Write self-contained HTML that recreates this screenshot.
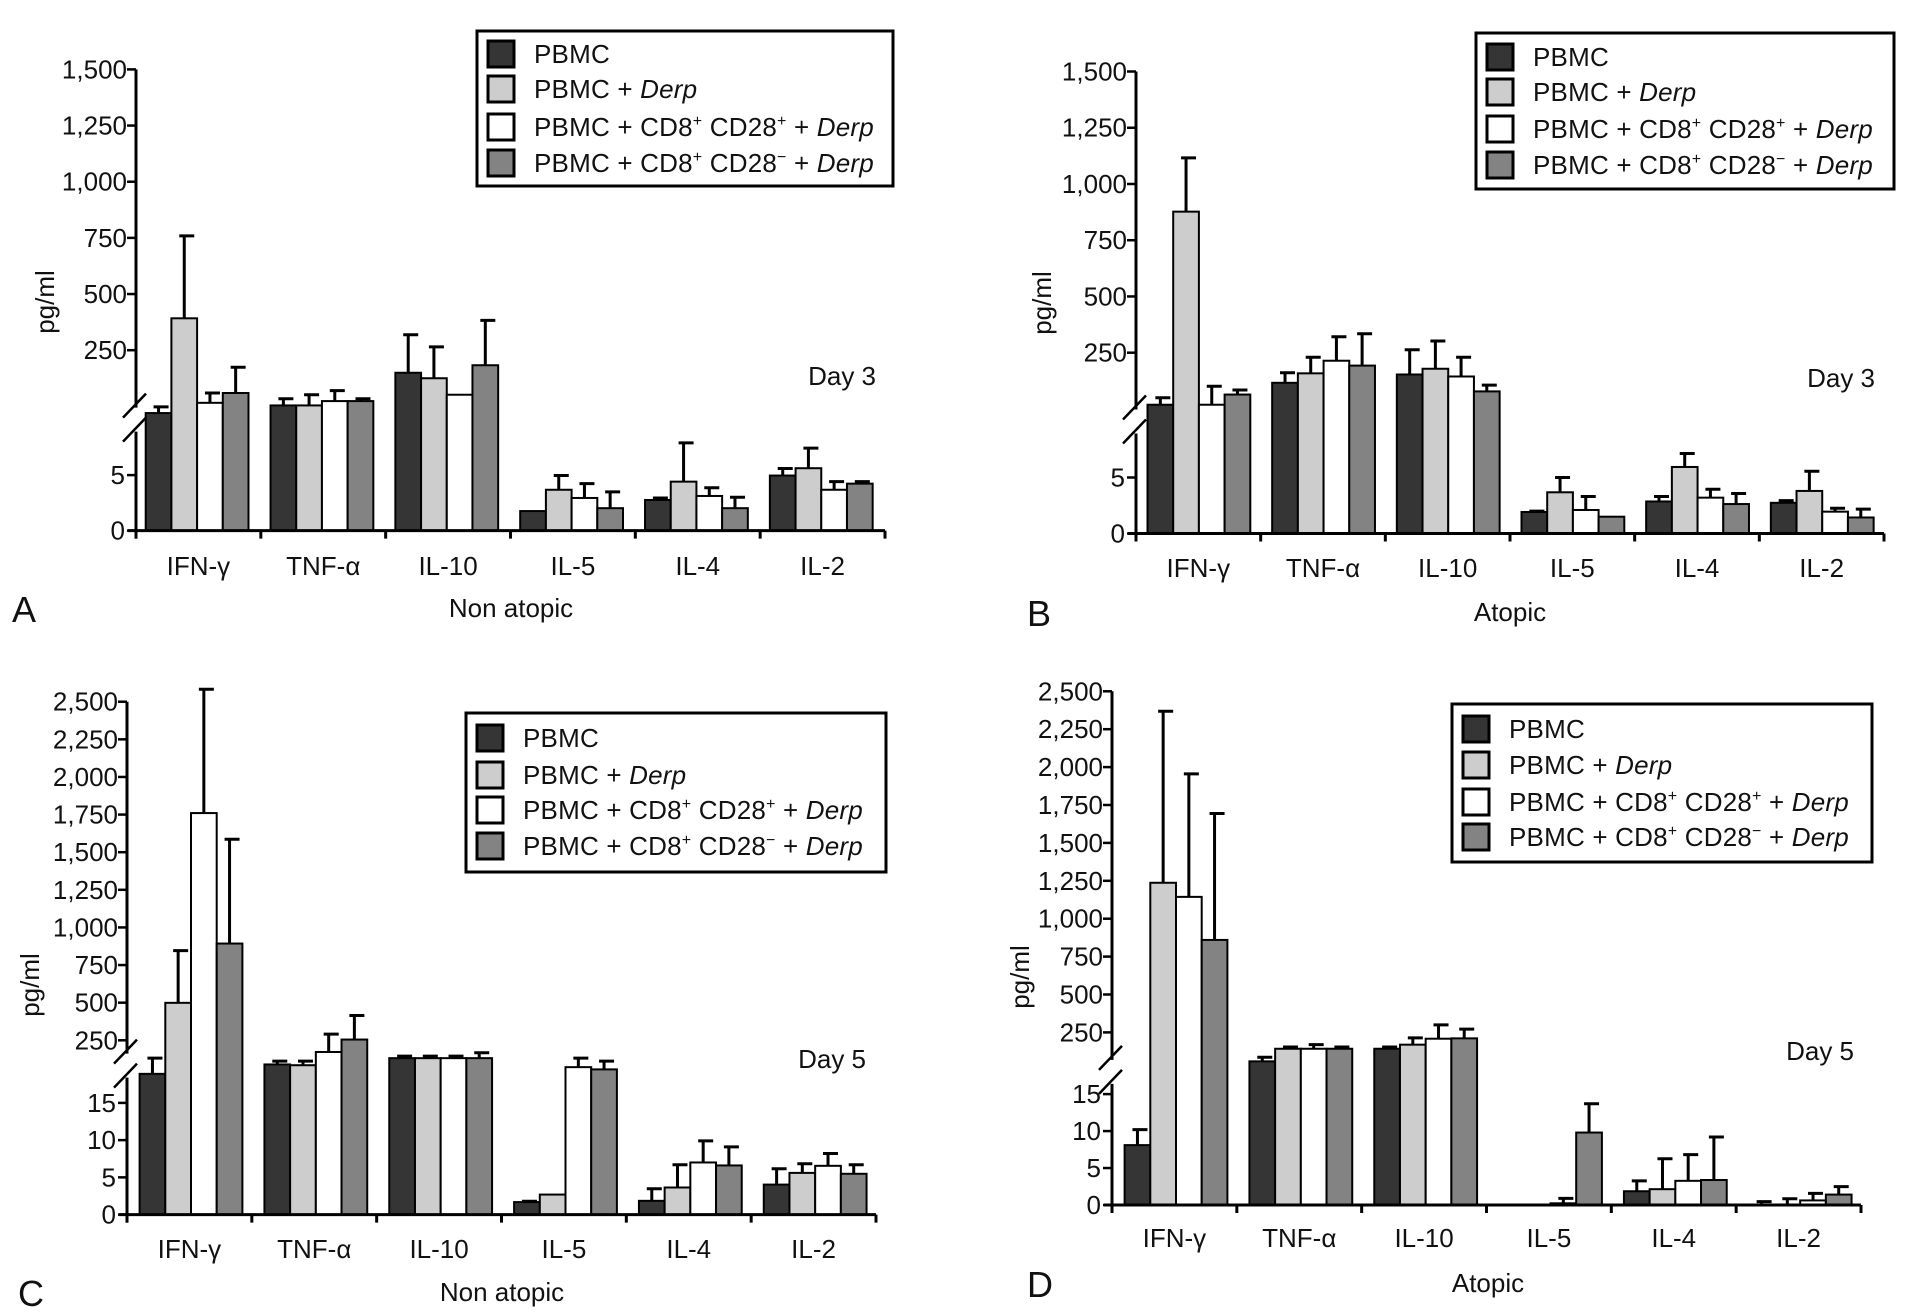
<!DOCTYPE html>
<html><head><meta charset="utf-8">
<style>
html,body{margin:0;padding:0;background:#fff;}
svg{display:block;font-family:"Liberation Sans",Arial,sans-serif;}
text{fill:#111;}
</style></head>
<body>
<svg id="fig" width="1923" height="1314" viewBox="0 0 1923 1314" xmlns="http://www.w3.org/2000/svg"></svg>
<script>
// ---- data ----
const categories = ["IFN-\u03b3","TNF-\u03b1","IL-10","IL-5","IL-4","IL-2"];
const seriesNames = ["PBMC","PBMC + Derp","PBMC + CD8+ CD28+ + Derp","PBMC + CD8+ CD28\u2212 + Derp"];
const ticksUpperAB = [250,500,750,1000,1250,1500];
const tickLabelsUpperAB = ["250","500","750","1,000","1,250","1,500"];
const ticksUpperCD = [250,500,750,1000,1250,1500,1750,2000,2250,2500];
const tickLabelsUpperCD = ["250","500","750","1,000","1,250","1,500","1,750","2,000","2,250","2,500"];
const ticksLowerAB = [0,5];
const ticksLowerCD = [0,5,10,15];

// Panel A (Non atopic, day 3)
const aPBMC = [32.6, 59, 172, 1.76, 2.76, 4.96];
const aPBMCErr = [53.8, 82, 319, 1.76, 2.94, 5.59];
const aDerp = [392, 59, 153, 3.68, 4.41, 5.62];
const aDerpErr = [759, 96, 265, 4.96, 7.9, 7.43];
const aPlus = [68, 74, 96, 2.94, 3.12, 3.68];
const aPlusErr = [102, 110, 96, 4.23, 3.86, 4.41];
const aMinus = [102, 74, 198, 2.02, 2.02, 4.23];
const aMinusErr = [191, 82, 383, 3.49, 3.0, 4.41];
// Panel B (Atopic, day 3)
const bPBMC = [68.5, 145, 174, 1.92, 2.86, 2.74];
const bPBMCErr = [93, 180, 263, 2.0, 3.3, 2.93];
const bDerp = [877, 178, 194, 3.68, 5.94, 3.8];
const bDerpErr = [1116, 234, 302, 5.0, 7.14, 5.56];
const bPlus = [68.5, 222, 167, 2.1, 3.2, 1.95];
const bPlusErr = [133, 321, 234, 3.3, 3.95, 2.26];
const bMinus = [104, 205, 115, 1.5, 2.63, 1.43];
const bMinusErr = [120, 334, 137, 1.5, 3.57, 2.18];
// Panel C (Non atopic, day 5)
const cPBMC = [18.9, 31, 88, 1.68, 1.85, 4.03];
const cPBMCErr = [88, 61, 107, 1.8, 3.47, 6.16];
const cDerp = [499, 24, 88, 2.69, 3.64, 5.6];
const cDerpErr = [846, 61, 107, 2.69, 6.7, 6.83];
const cPlus = [1760, 144, 88, 19.8, 7.0, 6.55];
const cPlusErr = [2583, 291, 107, 88, 9.9, 8.2];
const cMinus = [893, 255, 88, 19.5, 6.6, 5.48];
const cMinusErr = [1586, 415, 137, 61, 9.1, 6.7];
// Panel D (Atopic, day 5)
const dPBMC = [8.1, 80, 154, 0, 1.86, 0];
const dPBMCErr = [10.2, 104, 164, 0, 3.27, 0.45];
const dDerp = [1237, 154, 178, 0, 2.14, 0];
const dDerpErr = [2368, 164, 218, 0, 6.26, 0.85];
const dPlus = [1144, 154, 213, 0.23, 3.27, 0.62];
const dPlusErr = [1955, 178, 300, 0.9, 6.82, 1.58];
const dMinus = [860, 154, 215, 9.8, 3.38, 1.41];
const dMinusErr = [1694, 164, 272, 13.7, 9.19, 2.48];

const colors = ["#353535","#cdcdcd","#ffffff","#838383"];
const NS = "http://www.w3.org/2000/svg";
const svg = document.getElementById("fig");

function mk(tag, attrs, parent){
  const e = document.createElementNS(NS, tag);
  for (const k in attrs) e.setAttribute(k, attrs[k]);
  (parent||svg).appendChild(e);
  return e;
}

const panels = [
  {id:"a", letter:"A", group:"Non atopic", day:"Day 3", vals:[aPBMC,aDerp,aPlus,aMinus], errs:[aPBMCErr,aDerpErr,aPlusErr,aMinusErr],
   ax:136, xEnd:885, y0:530.6, lowerPx:11.1, lowerMax:10, y250:350.2, per250:56.16,
   up:ticksUpperAB, upL:tickLabelsUpperAB, low:ticksLowerAB, barLeft:145.7,
   leg:{x:477,y:31,w:416,h:155,rows:[54,89,127,163]}, dayX:876, dayY:376, yt:{x:46,y:302}, catY:566, grpX:511, grpY:608, letX:24},
  {id:"b", letter:"B", group:"Atopic", day:"Day 3", vals:[bPBMC,bDerp,bPlus,bMinus], errs:[bPBMCErr,bDerpErr,bPlusErr,bMinusErr],
   ax:1136, xEnd:1884, y0:533.5, lowerPx:11.2, lowerMax:10, y250:352.7, per250:56.24,
   up:ticksUpperAB, upL:tickLabelsUpperAB, low:ticksLowerAB, barLeft:1147.5,
   leg:{x:1476,y:33,w:418,h:156,rows:[57,92,129,165]}, dayX:1875, dayY:378, yt:{x:1043,y:303}, catY:568, grpX:1510, grpY:612, letX:1039},
  {id:"c", letter:"C", group:"Non atopic", day:"Day 5", vals:[cPBMC,cDerp,cPlus,cMinus], errs:[cPBMCErr,cDerpErr,cPlusErr,cMinusErr],
   ax:127, xEnd:876, y0:1214.6, lowerPx:7.447, lowerMax:20, y250:1040.3, per250:37.62,
   up:ticksUpperCD, upL:tickLabelsUpperCD, low:ticksLowerCD, barLeft:139.6,
   leg:{x:466,y:713,w:420,h:159,rows:[738,775,810,846]}, dayX:866, dayY:1059, yt:{x:31,y:985}, catY:1249, grpX:502, grpY:1292, letX:31},
  {id:"d", letter:"D", group:"Atopic", day:"Day 5", vals:[dPBMC,dDerp,dPlus,dMinus], errs:[dPBMCErr,dDerpErr,dPlusErr,dMinusErr],
   ax:1112, xEnd:1861, y0:1205, lowerPx:7.393, lowerMax:18, y250:1032.4, per250:37.9,
   up:ticksUpperCD, upL:tickLabelsUpperCD, low:ticksLowerCD, barLeft:1124.6,
   leg:{x:1452,y:704,w:420,h:158,rows:[729,765,802,837]}, dayX:1854, dayY:1051, yt:{x:1021,y:977}, catY:1238, grpX:1488, grpY:1283, letX:1040}
];

function yScale(p, v){
  const yBreak = p.y0 - p.lowerMax*p.lowerPx;
  if (v <= p.lowerMax) return p.y0 - v*p.lowerPx;
  if (v <= 250) return yBreak - (v-p.lowerMax)/(250-p.lowerMax)*(yBreak-p.y250);
  return p.y250 - (v-250)*p.per250/250;
}

const FS = 26;
panels.forEach(p => {
  const g = mk("g", {});
  
  
  const catW = (p.xEnd - p.ax)/6;
  const barW = 25.7;
  const off = p.barLeft - p.ax;
  const yBreak = p.y0 - p.lowerMax*p.lowerPx;
  const yTop = yScale(p, p.up[p.up.length-1]);

  p.vals.forEach((arr, s) => {
    arr.forEach((v, c) => {
      const x = p.ax + c*catW + off + s*barW;
      const yt = yScale(p, v);
      const e = p.errs[s][c];
      if (e > v + 0.001) {
        const ye = yScale(p, e);
        const cx = x + barW/2;
        const eb = mk("path", {d:`M${cx},${yt} V${ye} M${cx-5},${ye} H${cx+10}`, stroke:"#000", "stroke-width":3, fill:"none"}, g);
        
        
      }
      if (v > 0) {
        const r = mk("rect", {x:x, y:yt, width:barW, height:p.y0-yt, fill:colors[s], stroke:"#000", "stroke-width":2}, g);
        
        
      }
    });
  });

  const ya = mk("path", {d:`M${p.ax},${yTop} V${yBreak-12} M${p.ax},${yBreak+12} V${p.y0+8}`, stroke:"#000", "stroke-width":3, fill:"none"}, g);
  
  
  const brk = mk("path", {d:`M${p.ax-13},${yBreak-2} L${p.ax+10},${yBreak-26} M${p.ax-13},${yBreak+22} L${p.ax+10},${yBreak-2}`, stroke:"#000", "stroke-width":2.5, fill:"none"}, g);
  
  
  let xd = `M${p.ax-8},${p.y0} H${p.xEnd}`;
  for (let i=0;i<=6;i++){ const tx = p.ax + i*catW; xd += ` M${tx},${p.y0} V${p.y0+8}`; }
  const xa = mk("path", {d:xd, stroke:"#000", "stroke-width":3, fill:"none"}, g);
  
  

  p.up.forEach((t, i) => {
    const y = yScale(p, t);
    mk("path", {d:`M${p.ax-9},${y} H${p.ax}`, stroke:"#000","stroke-width":2.5}, g);
    const tl = mk("text", {x:p.ax-9, y:y+9, "font-size":FS, "text-anchor":"end"}, g);
    tl.textContent = p.upL[i];
    
    
  });
  p.low.forEach(t => {
    const y = yScale(p, t);
    mk("path", {d:`M${p.ax-9},${y} H${p.ax}`, stroke:"#000","stroke-width":2.5}, g);
    const tl = mk("text", {x:p.ax-11, y:y+9, "font-size":FS, "text-anchor":"end"}, g);
    tl.textContent = String(t);
    
    
  });

  categories.forEach((c, i) => {
    const t = mk("text", {x:p.ax + (i+0.5)*catW, y:p.catY+9, "font-size":FS, "text-anchor":"middle"}, g);
    t.textContent = c;
    
    
  });

  const yt = mk("text", {x:0, y:0, "font-size":FS, "text-anchor":"middle", transform:`translate(${p.yt.x+8},${p.yt.y}) rotate(-90)`}, g);
  yt.textContent = "pg/ml";
  
  

  const gl = mk("text", {x:p.grpX, y:p.grpY+9, "font-size":FS, "text-anchor":"middle"}, g);
  gl.textContent = p.group;
  
  
  const pl = mk("text", {x:p.letX, y:p.grpY+14, "font-size":36, "text-anchor":"middle"}, g);
  pl.textContent = p.letter;
  
  
  const dl = mk("text", {x:p.dayX, y:p.dayY+9, "font-size":FS, "text-anchor":"end"}, g);
  dl.textContent = p.day;
  
  

  const lg = mk("g", {}, g);
  
  
  mk("rect", {x:p.leg.x, y:p.leg.y, width:p.leg.w, height:p.leg.h, fill:"#fff", stroke:"#000", "stroke-width":3}, lg);
  p.leg.rows.forEach((ry, s) => {
    const sw = mk("rect", {x:p.leg.x+11, y:ry-13, width:26, height:26, fill:colors[s], stroke:"#000", "stroke-width":3}, lg);
    
    
    const t = mk("text", {x:p.leg.x+57, y:ry+9, "font-size":FS, "letter-spacing":"0.2"}, lg);
    
    
    if (s === 0) t.innerHTML = "PBMC";
    else if (s === 1) t.innerHTML = 'PBMC + <tspan font-style="italic">Derp</tspan>';
    else if (s === 2) t.innerHTML = 'PBMC + CD8<tspan dy="-10" font-size="16">+</tspan><tspan dy="10"> CD28</tspan><tspan dy="-10" font-size="16">+</tspan><tspan dy="10"> + </tspan><tspan font-style="italic">Derp</tspan>';
    else t.innerHTML = 'PBMC + CD8<tspan dy="-10" font-size="16">+</tspan><tspan dy="10"> CD28</tspan><tspan dy="-10" font-size="16">\u2212</tspan><tspan dy="10"> + </tspan><tspan font-style="italic">Derp</tspan>';
  });
});
</script>
</body></html>
